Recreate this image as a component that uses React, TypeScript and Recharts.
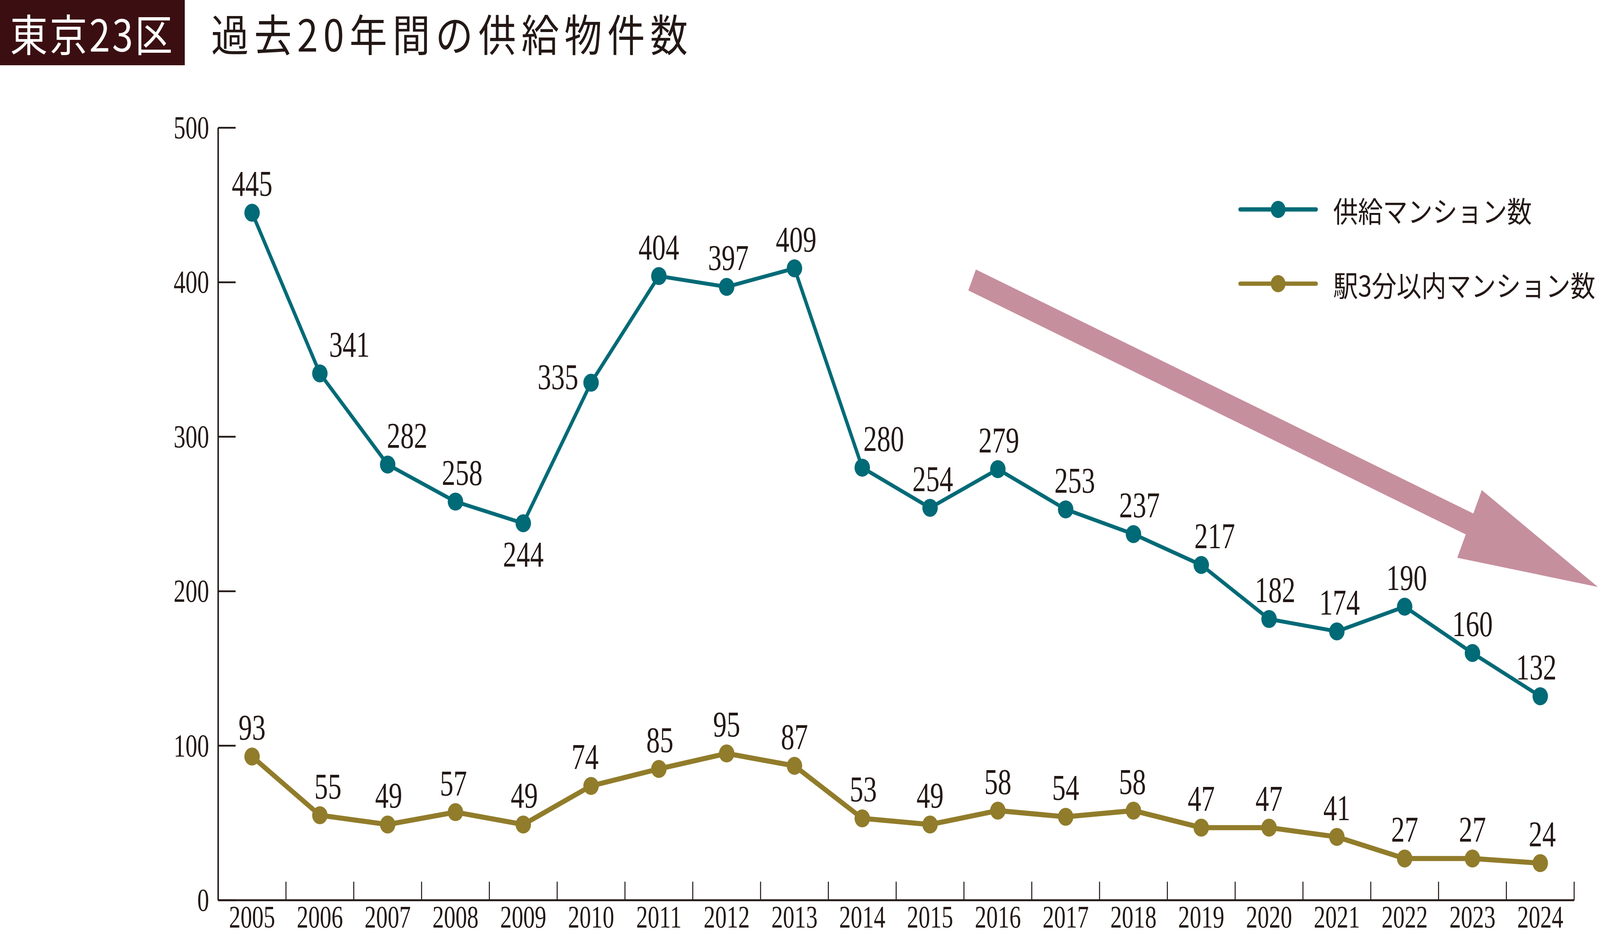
import React from 'react';
import { LineChart, Line, XAxis, YAxis, ReferenceLine, Legend, LabelList } from 'recharts';

const years = [
  '2005', '2006', '2007', '2008', '2009', '2010', '2011', '2012', '2013', '2014',
  '2015', '2016', '2017', '2018', '2019', '2020', '2021', '2022', '2023', '2024',
];
const supplyCounts = [445, 341, 282, 258, 244, 335, 404, 397, 409, 280, 254, 279, 253, 237, 217, 182, 174, 190, 160, 132];
const nearStationCounts = [93, 55, 49, 57, 49, 74, 85, 95, 87, 53, 49, 58, 54, 58, 47, 47, 41, 27, 27, 24];
const yTicks = [0, 100, 200, 300, 400, 500];
const yearTicks = years.map((_, i) => i);
const boundaryTicks = years.map((_, i) => i + 0.5);

const seriesNames = { supply: '供給マンション数', near: '駅3分以内マンション数' };

// 右下がりの矢印（データ座標）
const trendArrow = { from: { x: 10.62, y: 401.5 }, to: { x: 19.85, y: 202.8 } };
// 年の区切り目盛りの高さ（y の値で）
const boundaryTickLen = 12;

// ラベルの置き方
const supplyShift = [0, 88, 58, 20, 0, 0, 0, 5, 5, 64, 8, 3, 27, 18, 40, 18, 8, 6, 0, -12];
const supplySide: Record<number, string> = { 4: 'below', 5: 'left' };
const nearShift = [0, 24, 3, -6, 3, -18, 3, 0, 0, 3, 0, 0, 0, -3, 0, 0, 0, 0, 0, 6];

const TEAL = '#006a77';
const OLIVE = '#917c2b';
const INK = '#231815';
const ARROW = '#c68f9e';

const W = 4767;
const H = 2393;

const chartData = years.map((year, i) => ({
  i,
  year,
  supply: supplyCounts[i],
  near: nearStationCounts[i],
}));

function SerifText({ x, y, anchor = 'middle', size, children }: any) {
  return (
    <text
      transform={`translate(${x},${y}) scale(0.86,1)`}
      textAnchor={anchor}
      fontSize={size}
      fontFamily="'Liberation Serif', 'DejaVu Serif', serif"
      fill={INK}
    >
      {children}
    </text>
  );
}

function makeLabel(shifts: number[], sides: Record<number, string>) {
  return (props: any) => {
    const x = props.x ?? props.viewBox?.x;
    const y = props.y ?? props.viewBox?.y;
    const index = props.index;
    const side = sides[index] ?? 'above';
    let tx = x + (shifts[index] || 0);
    let ty = y - 43;
    let anchor = 'middle';
    if (side === 'below') ty = y + 111;
    if (side === 'left') {
      tx = x - 38;
      ty = y + 17;
      anchor = 'end';
    }
    return (
      <SerifText x={tx} y={ty} anchor={anchor} size={94}>
        {props.value}
      </SerifText>
    );
  };
}

function YTick({ x, y, payload }: any) {
  return (
    <SerifText x={x} y={y + 27} anchor="end" size={82}>
      {payload.value}
    </SerifText>
  );
}

function XTick({ x, y, payload }: any) {
  return (
    <SerifText x={x} y={y + 70} size={80}>
      {years[payload.value]}
    </SerifText>
  );
}

function TrendArrow(p: any) {
  const { x1, y1, x2, y2 } = p;
  const len = Math.hypot(x2 - x1, y2 - y1);
  const ux = (x2 - x1) / len;
  const uy = (y2 - y1) / len;
  const nx = -uy;
  const ny = ux;
  const shaft = 29;
  const head = 94;
  const headLen = 415;
  const bx = x2 - ux * headLen;
  const by = y2 - uy * headLen;
  const pts = [
    [x1 + nx * shaft, y1 + ny * shaft],
    [bx + nx * shaft, by + ny * shaft],
    [bx + nx * head, by + ny * head],
    [x2, y2],
    [bx - nx * head, by - ny * head],
    [bx - nx * shaft, by - ny * shaft],
    [x1 - nx * shaft, y1 - ny * shaft],
  ];
  return <polygon points={pts.map((q) => q.join(',')).join(' ')} fill={ARROW} />;
}

function LegendBox() {
  const items = [
    { label: seriesNames.supply, color: TEAL },
    { label: seriesNames.near, color: OLIVE },
  ];
  return (
    <div>
      {items.map((it) => (
        <div
          key={it.label}
          style={{ display: 'flex', alignItems: 'center', height: 100, marginBottom: 90 }}
        >
          <svg width={238} height={50}>
            <line x1={6} y1={25} x2={232} y2={25} stroke={it.color} strokeWidth={11} strokeLinecap="round" />
            <circle cx={119} cy={25} r={22} fill={it.color} />
          </svg>
          <span
            style={{
              marginLeft: 45,
              fontSize: 74,
              fontFamily: "'Noto Sans CJK JP', sans-serif",
              color: INK,
              whiteSpace: 'nowrap',
            }}
          >
            {it.label}
          </span>
        </div>
      ))}
    </div>
  );
}

export default function App() {
  // ウィンドウが狭いときは横方向だけ縮めて全体を収める
  const viewW = typeof window !== 'undefined' ? window.innerWidth : W;
  const sx = Math.min(1, viewW / W);

  return (
    <div
      style={{
        position: 'absolute',
        left: 0,
        top: 0,
        width: W * sx,
        height: H,
        background: '#fff',
        overflow: 'hidden',
      }}
    >
      <div
        style={{
          position: 'absolute',
          left: 0,
          top: 0,
          width: W,
          height: H,
          transform: `scale(${sx}, 1)`,
          transformOrigin: '0 0',
        }}
      >
        <LineChart
          width={W}
          height={H}
          data={chartData}
          margin={{ top: 327, right: 77, bottom: 0, left: 0 }}
        >
          <XAxis
            dataKey="i"
            type="number"
            domain={[-0.5, 19.5]}
            ticks={yearTicks}
            interval={0}
            height={89}
            axisLine={{ stroke: INK, strokeWidth: 4.5 }}
            tickLine={false}
            tickSize={0}
            tickMargin={0}
            tick={<XTick />}
          />
          <YAxis
            width={650}
            domain={[0, 500]}
            ticks={yTicks}
            interval={0}
            axisLine={{ stroke: INK, strokeWidth: 4.5 }}
            tickLine={{ stroke: INK, strokeWidth: 4.5 }}
            tickSize={-52}
            tickMargin={79}
            tick={<YTick />}
          />
          {/* 横軸の線と年の区切り目盛り */}
          <ReferenceLine y={0} stroke={INK} strokeWidth={4.5} ifOverflow="visible" />
          {boundaryTicks.map((b) => (
            <ReferenceLine
              key={b}
              segment={[{ x: b, y: 0 }, { x: b, y: boundaryTickLen }]}
              stroke={INK}
              strokeWidth={3}
              ifOverflow="visible"
            />
          ))}
          <ReferenceLine
            segment={[trendArrow.from, trendArrow.to]}
            ifOverflow="visible"
            shape={(p: any) => <TrendArrow {...p} />}
          />
          <Legend
            layout="horizontal"
            verticalAlign="middle"
            align="center"
            wrapperStyle={{ left: 3689, top: 486, width: 1078 }}
            content={() => <LegendBox />}
          />
          <Line
            type="linear"
            dataKey="supply"
            name={seriesNames.supply}
            stroke={TEAL}
            strokeWidth={10}
            dot={{ r: 23, fill: TEAL, stroke: 'none' }}
            activeDot={false}
            isAnimationActive={false}
          >
            <LabelList dataKey="supply" content={makeLabel(supplyShift, supplySide)} />
          </Line>
          <Line
            type="linear"
            dataKey="near"
            name={seriesNames.near}
            stroke={OLIVE}
            strokeWidth={13}
            dot={{ r: 23, fill: OLIVE, stroke: 'none' }}
            activeDot={false}
            isAnimationActive={false}
          >
            <LabelList dataKey="near" content={makeLabel(nearShift, {})} />
          </Line>
        </LineChart>

        {/* タイトル */}
        <div
          style={{
            position: 'absolute',
            left: 0,
            top: 0,
            width: 550,
            height: 167,
            background: '#3b0f11',
            color: '#fff',
            fontFamily: "'Noto Sans CJK JP', sans-serif",
            fontSize: 112,
            lineHeight: '167px',
            textAlign: 'center',
            letterSpacing: 6,
          }}
        >
          東京23区
        </div>
        <div
          style={{
            position: 'absolute',
            left: 629,
            top: 0,
            height: 167,
            color: INK,
            fontFamily: "'Noto Sans CJK JP', sans-serif",
            fontSize: 112,
            lineHeight: '167px',
            letterSpacing: 16,
            whiteSpace: 'nowrap',
          }}
        >
          過去20年間の供給物件数
        </div>
      </div>
    </div>
  );
}
